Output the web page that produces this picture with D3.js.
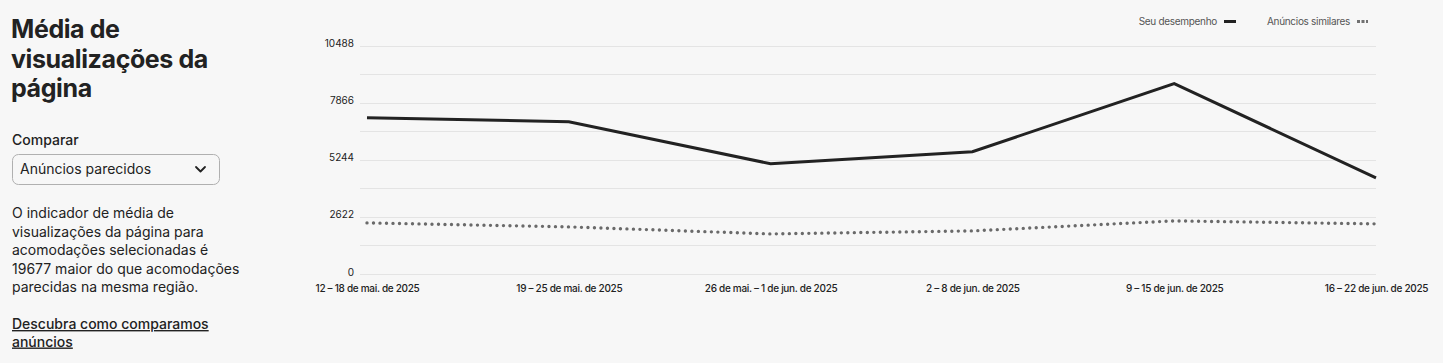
<!DOCTYPE html>
<html><head><meta charset="utf-8">
<script src="https://cdn.jsdelivr.net/npm/d3@7"></script>
<style>
body{margin:0;background:#f7f7f7;font-family:Inter,"Noto Sans",sans-serif;color:#222;}
svg{display:block;}
</style></head>
<body>
<svg id="c" width="1443" height="363"></svg>
<script>
const categories=["12 – 18 de mai. de 2025","19 – 25 de mai. de 2025","26 de mai. – 1 de jun. de 2025","2 – 8 de jun. de 2025","9 – 15 de jun. de 2025","16 – 22 de jun. de 2025"];
const seuDesempenho=[7176,6992,5060,5612,8740,4416];
const anunciosSimilares=[2346,2162,1840,1978,2438,2300];
const yTicks=[0,2622,5244,7866,10488];
const gridValues=[0,1311,2622,3933,5244,6555,7866,9177,10488];
const titleLines=["Média de","visualizações da","página"];
const descLines=["O indicador de média de","visualizações da página para","acomodações selecionadas é","19677 maior do que acomodações","parecidas na mesma região."];
const linkLines=["Descubra como comparamos","anúncios"];

const svg=d3.select("#c");
// left panel
const g0=svg.append("g");
titleLines.forEach((t,i)=>g0.append("text").attr("x",11).attr("y",38+i*29.5).attr("font-size",25).attr("font-weight",700).attr("fill","#222").attr("letter-spacing","-0.4").text(t));
g0.append("text").attr("x",12).attr("y",145).attr("font-size",14).attr("font-weight",500).attr("fill","#222").text("Comparar");
g0.append("rect").attr("x",12.5).attr("y",154.5).attr("width",207).attr("height",30).attr("rx",6).attr("fill","#f7f7f7").attr("stroke","#b0b0b0");
g0.append("text").attr("x",20).attr("y",174).attr("font-size",14).attr("fill","#222").text("Anúncios parecidos");
g0.append("path").attr("d","M196 167 l4.5 4.5 l4.5 -4.5").attr("fill","none").attr("stroke","#222").attr("stroke-width",1.8).attr("stroke-linecap","round").attr("stroke-linejoin","round");
descLines.forEach((t,i)=>g0.append("text").attr("x",12).attr("y",218+i*18.6).attr("font-size",14).attr("fill","#222").text(t));
linkLines.forEach((t,i)=>g0.append("text").attr("x",12).attr("y",329+i*17.5).attr("font-size",14).attr("font-weight",500).attr("fill","#222").attr("text-decoration","underline").text(t));

// chart
const x=d3.scalePoint().domain(categories).range([367,1376]);
const y=d3.scaleLinear().domain([0,10488]).range([274,45.5]);
const g=svg.append("g");
g.selectAll("line.grid").data(gridValues).join("line").attr("class","grid")
 .attr("x1",360).attr("x2",1376).attr("y1",d=>Math.round(y(d))+0.5).attr("y2",d=>Math.round(y(d))+0.5)
 .attr("stroke","#e4e4e4").attr("stroke-width",1.2);
const yAxis=g.append("g").attr("transform","translate(360,0)")
 .call(d3.axisLeft(y).tickValues(yTicks).tickSize(0).tickPadding(6).tickFormat(d=>String(d)));
yAxis.select(".domain").remove();
yAxis.selectAll("text").attr("font-size",10).attr("font-family","Inter,'Noto Sans',sans-serif").attr("fill","#222").attr("dy","0.1em");
const xAxis=g.append("g").attr("transform","translate(0,280)")
 .call(d3.axisBottom(x).tickSize(0).tickPadding(5));
xAxis.select(".domain").remove();
xAxis.selectAll("text").attr("font-size",10).attr("font-weight",500).attr("font-family","Inter,'Noto Sans',sans-serif").attr("fill","#222").attr("letter-spacing","-0.3");

const line=d3.line().x((d,i)=>x(categories[i])).y(d=>y(d));
g.append("path").datum(anunciosSimilares).attr("d",line).attr("fill","none").attr("stroke","#6a6a6a").attr("stroke-width",3.4).attr("stroke-linecap","round").attr("stroke-dasharray","0 6.5");
g.append("path").datum(seuDesempenho).attr("d",line).attr("fill","none").attr("stroke","#222").attr("stroke-width",3).attr("stroke-linejoin","miter");

// legend
const lg=svg.append("g");
lg.append("text").attr("x",1217).attr("y",25).attr("text-anchor","end").attr("font-size",10).attr("fill","#555").attr("letter-spacing","-0.3").text("Seu desempenho");
lg.append("line").attr("x1",1224).attr("x2",1236).attr("y1",21.5).attr("y2",21.5).attr("stroke","#222").attr("stroke-width",3);
lg.append("text").attr("x",1350).attr("y",25).attr("text-anchor","end").attr("font-size",10).attr("fill","#555").attr("letter-spacing","-0.3").text("Anúncios similares");
lg.append("line").attr("x1",1357).attr("x2",1368).attr("y1",21.5).attr("y2",21.5).attr("stroke","#717171").attr("stroke-width",3).attr("stroke-dasharray","3 1.5");
</script>
</body></html>
